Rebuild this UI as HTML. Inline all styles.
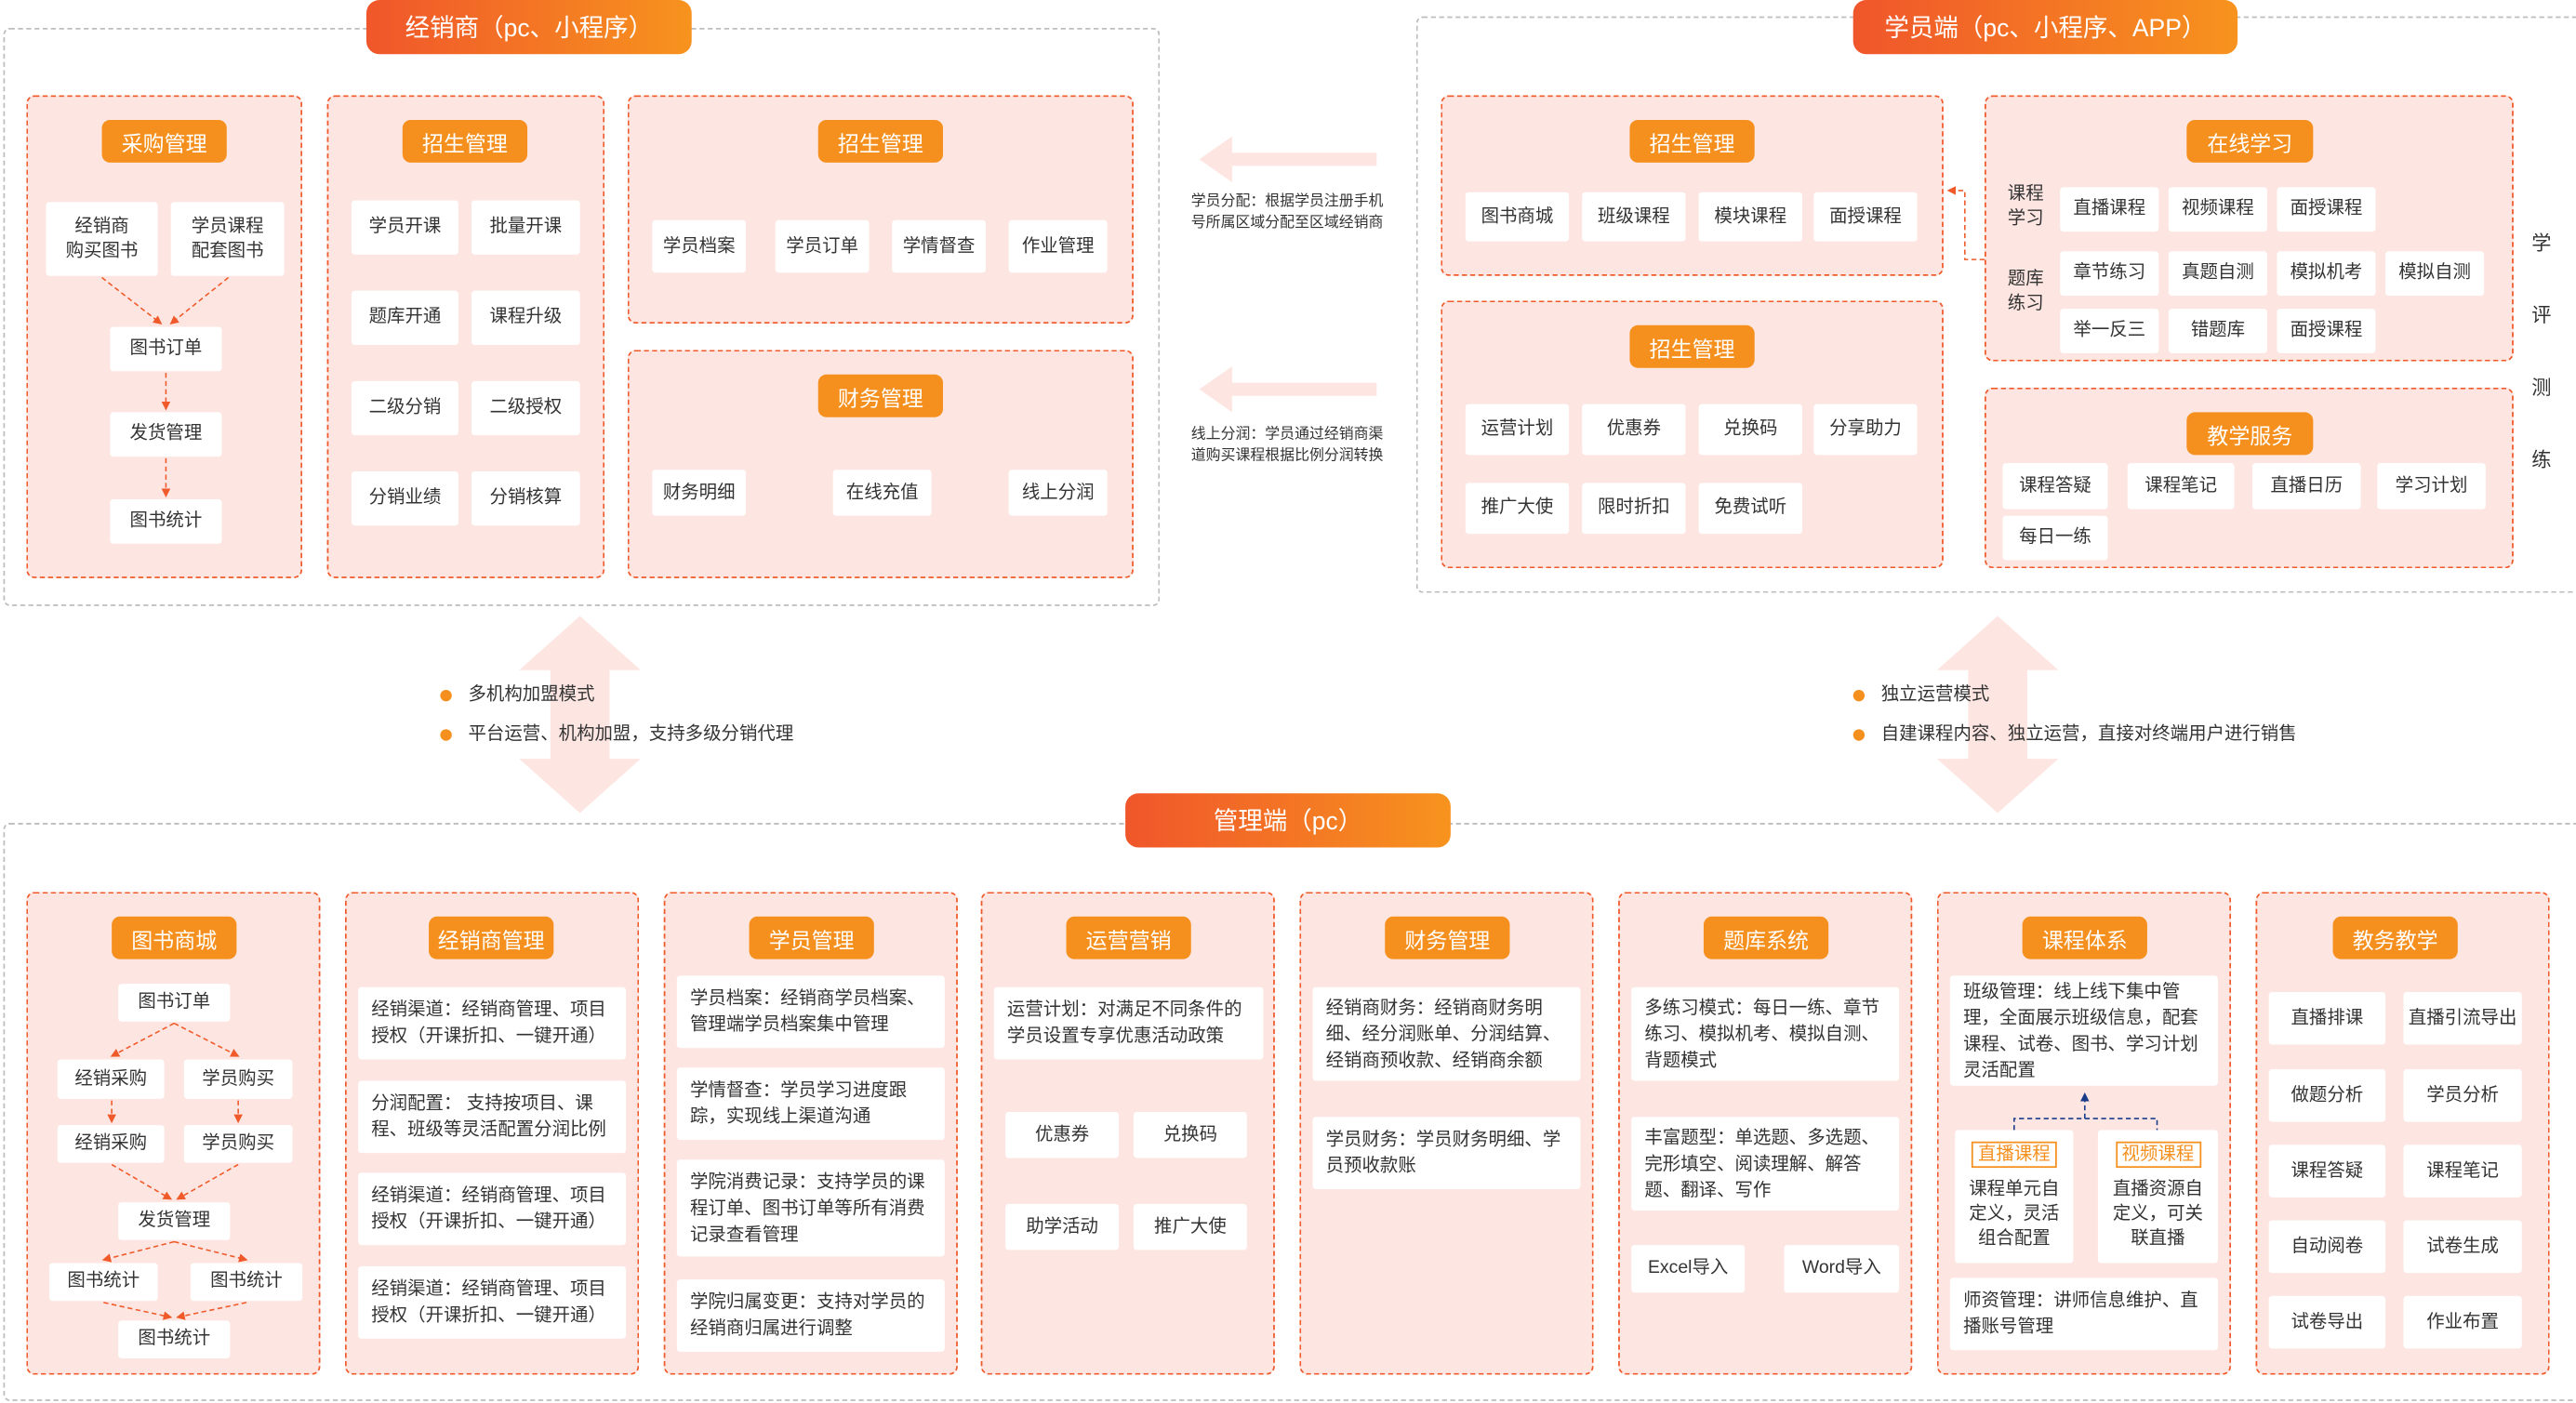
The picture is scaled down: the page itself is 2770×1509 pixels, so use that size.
<!DOCTYPE html>
<html><head><meta charset="utf-8"><style>
*{margin:0;padding:0;box-sizing:border-box}
html,body{width:2770px;height:1509px;overflow:hidden;background:#fff}
#w{position:absolute;left:0;top:0;width:1568px;height:854px;transform:scale(1.76658);transform-origin:0 0;font-family:"Liberation Sans","Noto Sans CJK SC",sans-serif;color:#333}
.a{position:absolute}
.o{position:absolute;border:1px dashed #bdbdbd;border-radius:4px}
.p{position:absolute;background:#fde6e2;border:1.5px dashed #f05a2a;border-radius:5px}
.t{position:absolute;height:33px;border-radius:8px;background:linear-gradient(90deg,#f0562b,#f7931e);color:#fff;font-size:15px;display:flex;align-items:center;justify-content:center}
.pl{position:absolute;height:26px;width:76px;border-radius:5px;background:#f5901e;color:#fff;font-size:13px;display:flex;align-items:center;justify-content:center}
.b{position:absolute;background:#fff;border-radius:2px;font-size:11px;display:flex;align-items:center;justify-content:center;text-align:center;line-height:15px}
.x{position:absolute;background:#fff;border-radius:2px;font-size:11px;line-height:16px;padding:0 8px;display:flex;align-items:center}
.tx{position:absolute;font-size:11px;line-height:15px}
.dot{position:absolute;width:7px;height:7px;border-radius:50%;background:#f5901e}
.tag{display:inline-block;border:1px solid #f5901e;color:#f5901e;font-size:11px;line-height:14px;padding:0 3px;margin-bottom:6px}
</style></head><body><div id="w">
<svg class="a" style="left:0;top:0" width="1568" height="854">
<defs>
<marker id="m" markerWidth="6" markerHeight="6" refX="5" refY="3" orient="auto"><path d="M0,0 L6,3 L0,6z" fill="#f05a2a"/></marker>
<marker id="mb" markerWidth="6" markerHeight="6" refX="5" refY="3" orient="auto"><path d="M0,0 L6,3 L0,6z" fill="#1a3a8a"/></marker>
</defs>
<g fill="#fde6e2">
<polygon points="730,97 750,83 750,93 838,93 838,101 750,101 750,111"/>
<polygon points="730,237 750,223 750,233 838,233 838,241 750,241 750,251"/>
<polygon points="353,375 390,408 371,408 371,462 390,462 353,495 316,462 335,462 335,408 316,408"/>
<polygon points="1216,375 1253,408 1234,408 1234,462 1253,462 1216,495 1179,462 1198,462 1198,408 1179,408"/>
</g>
</svg>
<!-- top-left -->
<div class="o" style="left:2px;top:17px;width:704px;height:352px"></div>
<div class="t" style="left:223px;top:0;width:198px">经销商（pc、小程序）</div>
<div class="p" style="left:16px;top:58px;width:168px;height:294px"></div>
<div class="pl" style="left:62px;top:73px">采购管理</div>
<div class="b" style="left:28px;top:123px;width:68px;height:45px">经销商<br>购买图书</div>
<div class="b" style="left:104px;top:123px;width:69px;height:45px">学员课程<br>配套图书</div>
<div class="b" style="left:67px;top:199px;width:68px;height:27px">图书订单</div>
<div class="b" style="left:67px;top:251px;width:68px;height:27px">发货管理</div>
<div class="b" style="left:67px;top:304px;width:68px;height:27px">图书统计</div>
<div class="p" style="left:199px;top:58px;width:169px;height:294px"></div>
<div class="pl" style="left:245px;top:73px">招生管理</div>
<div class="b" style="left:214px;top:122px;width:65px;height:33px">学员开课</div>
<div class="b" style="left:287px;top:122px;width:66px;height:33px">批量开课</div>
<div class="b" style="left:214px;top:177px;width:65px;height:33px">题库开通</div>
<div class="b" style="left:287px;top:177px;width:66px;height:33px">课程升级</div>
<div class="b" style="left:214px;top:232px;width:65px;height:33px">二级分销</div>
<div class="b" style="left:287px;top:232px;width:66px;height:33px">二级授权</div>
<div class="b" style="left:214px;top:287px;width:65px;height:33px">分销业绩</div>
<div class="b" style="left:287px;top:287px;width:66px;height:33px">分销核算</div>
<div class="p" style="left:382px;top:58px;width:308px;height:139px"></div>
<div class="pl" style="left:498px;top:73px">招生管理</div>
<div class="b" style="left:397px;top:134px;width:57px;height:32px">学员档案</div>
<div class="b" style="left:472px;top:134px;width:57px;height:32px">学员订单</div>
<div class="b" style="left:543px;top:134px;width:57px;height:32px">学情督查</div>
<div class="b" style="left:614px;top:134px;width:60px;height:32px">作业管理</div>
<div class="p" style="left:382px;top:213px;width:308px;height:139px"></div>
<div class="pl" style="left:498px;top:228px">财务管理</div>
<div class="b" style="left:397px;top:286px;width:57px;height:28px">财务明细</div>
<div class="b" style="left:507px;top:286px;width:60px;height:28px">在线充值</div>
<div class="b" style="left:614px;top:286px;width:60px;height:28px">线上分润</div>
<!-- middle texts -->
<div class="tx" style="left:725px;top:116px;font-size:9px;line-height:13px">学员分配：根据学员注册手机<br>号所属区域分配至区域经销商</div>
<div class="tx" style="left:725px;top:258px;font-size:9px;line-height:13px">线上分润：学员通过经销商渠<br>道购买课程根据比例分润转换</div>
<!-- top-right -->
<div class="o" style="left:862px;top:10px;width:720px;height:351px"></div>
<div class="t" style="left:1128px;top:0;width:234px">学员端（pc、小程序、APP）</div>
<div class="p" style="left:877px;top:58px;width:306px;height:110px"></div>
<div class="pl" style="left:992px;top:73px">招生管理</div>
<div class="b" style="left:892px;top:117px;width:63px;height:30px">图书商城</div>
<div class="b" style="left:963px;top:117px;width:63px;height:30px">班级课程</div>
<div class="b" style="left:1034px;top:117px;width:63px;height:30px">模块课程</div>
<div class="b" style="left:1104px;top:117px;width:63px;height:30px">面授课程</div>
<div class="p" style="left:877px;top:183px;width:306px;height:163px"></div>
<div class="pl" style="left:992px;top:198px">招生管理</div>
<div class="b" style="left:892px;top:246px;width:63px;height:31px">运营计划</div>
<div class="b" style="left:963px;top:246px;width:63px;height:31px">优惠券</div>
<div class="b" style="left:1034px;top:246px;width:63px;height:31px">兑换码</div>
<div class="b" style="left:1104px;top:246px;width:63px;height:31px">分享助力</div>
<div class="b" style="left:892px;top:294px;width:63px;height:31px">推广大使</div>
<div class="b" style="left:963px;top:294px;width:63px;height:31px">限时折扣</div>
<div class="b" style="left:1034px;top:294px;width:63px;height:31px">免费试听</div>
<div class="p" style="left:1208px;top:58px;width:322px;height:162px"></div>
<div class="pl" style="left:1331px;top:73px;width:77px">在线学习</div>
<div class="tx" style="left:1222px;top:111px">课程<br>学习</div>
<div class="tx" style="left:1222px;top:163px">题库<br>练习</div>
<div class="b" style="left:1254px;top:114px;width:60px;height:27px">直播课程</div>
<div class="b" style="left:1320px;top:114px;width:60px;height:27px">视频课程</div>
<div class="b" style="left:1386px;top:114px;width:60px;height:27px">面授课程</div>
<div class="b" style="left:1254px;top:153px;width:60px;height:27px">章节练习</div>
<div class="b" style="left:1320px;top:153px;width:60px;height:27px">真题自测</div>
<div class="b" style="left:1386px;top:153px;width:60px;height:27px">模拟机考</div>
<div class="b" style="left:1452px;top:153px;width:60px;height:27px">模拟自测</div>
<div class="b" style="left:1254px;top:188px;width:60px;height:27px">举一反三</div>
<div class="b" style="left:1320px;top:188px;width:60px;height:27px">错题库</div>
<div class="b" style="left:1386px;top:188px;width:60px;height:27px">面授课程</div>
<div class="p" style="left:1208px;top:236px;width:322px;height:110px"></div>
<div class="pl" style="left:1331px;top:251px;width:77px">教学服务</div>
<div class="b" style="left:1219px;top:282px;width:64px;height:28px">课程答疑</div>
<div class="b" style="left:1295px;top:282px;width:65px;height:28px">课程笔记</div>
<div class="b" style="left:1371px;top:282px;width:66px;height:28px">直播日历</div>
<div class="b" style="left:1447px;top:282px;width:66px;height:28px">学习计划</div>
<div class="b" style="left:1219px;top:314px;width:64px;height:27px">每日一练</div>
<div class="tx" style="left:1541px;top:126px;font-size:12px;line-height:44px">学<br>评<br>测<br>练</div>
<!-- bullets -->
<div class="dot" style="left:268px;top:420px"></div><div class="tx" style="left:285px;top:416px">多机构加盟模式</div>
<div class="dot" style="left:268px;top:444px"></div><div class="tx" style="left:285px;top:440px">平台运营、机构加盟，支持多级分销代理</div>
<div class="dot" style="left:1128px;top:420px"></div><div class="tx" style="left:1145px;top:416px">独立运营模式</div>
<div class="dot" style="left:1128px;top:444px"></div><div class="tx" style="left:1145px;top:440px">自建课程内容、独立运营，直接对终端用户进行销售</div>
<!-- bottom -->
<div class="o" style="left:2px;top:501px;width:1580px;height:352px"></div>
<div class="t" style="left:685px;top:483px;width:198px">管理端（pc）</div>
<div class="p" style="left:16px;top:543px;width:179px;height:294px"></div>
<div class="pl" style="left:68px;top:558px">图书商城</div>
<div class="b" style="left:72px;top:599px;width:68px;height:23px">图书订单</div>
<div class="b" style="left:35px;top:645px;width:65px;height:24px">经销采购</div>
<div class="b" style="left:112px;top:645px;width:66px;height:24px">学员购买</div>
<div class="b" style="left:35px;top:685px;width:65px;height:23px">经销采购</div>
<div class="b" style="left:112px;top:685px;width:66px;height:23px">学员购买</div>
<div class="b" style="left:72px;top:732px;width:68px;height:23px">发货管理</div>
<div class="b" style="left:30px;top:769px;width:66px;height:23px">图书统计</div>
<div class="b" style="left:116px;top:769px;width:68px;height:23px">图书统计</div>
<div class="b" style="left:72px;top:804px;width:68px;height:23px">图书统计</div>
<div class="p" style="left:210px;top:543px;width:179px;height:294px"></div>
<div class="pl" style="left:261px;top:558px">经销商管理</div>
<div class="x" style="left:218px;top:601px;width:163px;height:44px">经销渠道：经销商管理、项目授权（开课折扣、一键开通）</div>
<div class="x" style="left:218px;top:658px;width:163px;height:44px">分润配置： 支持按项目、课程、班级等灵活配置分润比例</div>
<div class="x" style="left:218px;top:714px;width:163px;height:44px">经销渠道：经销商管理、项目授权（开课折扣、一键开通）</div>
<div class="x" style="left:218px;top:771px;width:163px;height:44px">经销渠道：经销商管理、项目授权（开课折扣、一键开通）</div>
<div class="p" style="left:404px;top:543px;width:179px;height:294px"></div>
<div class="pl" style="left:456px;top:558px">学员管理</div>
<div class="x" style="left:412px;top:594px;width:163px;height:44px">学员档案：经销商学员档案、管理端学员档案集中管理</div>
<div class="x" style="left:412px;top:650px;width:163px;height:44px">学情督查：学员学习进度跟踪，实现线上渠道沟通</div>
<div class="x" style="left:412px;top:706px;width:163px;height:59px">学院消费记录：支持学员的课程订单、图书订单等所有消费记录查看管理</div>
<div class="x" style="left:412px;top:779px;width:163px;height:44px">学院归属变更：支持对学员的经销商归属进行调整</div>
<div class="p" style="left:597px;top:543px;width:179px;height:294px"></div>
<div class="pl" style="left:649px;top:558px">运营营销</div>
<div class="x" style="left:605px;top:601px;width:164px;height:44px">运营计划：对满足不同条件的学员设置专享优惠活动政策</div>
<div class="b" style="left:612px;top:677px;width:69px;height:28px">优惠券</div>
<div class="b" style="left:690px;top:677px;width:69px;height:28px">兑换码</div>
<div class="b" style="left:612px;top:733px;width:69px;height:28px">助学活动</div>
<div class="b" style="left:690px;top:733px;width:69px;height:28px">推广大使</div>
<div class="p" style="left:791px;top:543px;width:179px;height:294px"></div>
<div class="pl" style="left:843px;top:558px">财务管理</div>
<div class="x" style="left:799px;top:601px;width:163px;height:57px">经销商财务：经销商财务明细、经分润账单、分润结算、经销商预收款、经销商余额</div>
<div class="x" style="left:799px;top:680px;width:163px;height:44px">学员财务：学员财务明细、学员预收款账</div>
<div class="p" style="left:985px;top:543px;width:179px;height:294px"></div>
<div class="pl" style="left:1037px;top:558px">题库系统</div>
<div class="x" style="left:993px;top:601px;width:163px;height:57px">多练习模式：每日一练、章节练习、模拟机考、模拟自测、背题模式</div>
<div class="x" style="left:993px;top:680px;width:163px;height:57px">丰富题型：单选题、多选题、完形填空、阅读理解、解答题、翻译、写作</div>
<div class="b" style="left:993px;top:758px;width:69px;height:29px">Excel导入</div>
<div class="b" style="left:1086px;top:758px;width:70px;height:29px">Word导入</div>
<div class="p" style="left:1179px;top:543px;width:179px;height:294px"></div>
<div class="pl" style="left:1231px;top:558px">课程体系</div>
<div class="x" style="left:1187px;top:594px;width:163px;height:67px">班级管理：线上线下集中管理，全面展示班级信息，配套课程、试卷、图书、学习计划灵活配置</div>
<div class="b" style="left:1190px;top:688px;width:72px;height:81px;flex-direction:column"><span class="tag">直播课程</span>课程单元自<br>定义，灵活<br>组合配置</div>
<div class="b" style="left:1277px;top:688px;width:73px;height:81px;flex-direction:column"><span class="tag">视频课程</span>直播资源自<br>定义，可关<br>联直播</div>
<div class="x" style="left:1187px;top:778px;width:163px;height:44px">师资管理：讲师信息维护、直播账号管理</div>
<div class="p" style="left:1373px;top:543px;width:179px;height:294px"></div>
<div class="pl" style="left:1420px;top:558px">教务教学</div>
<div class="b" style="left:1381px;top:604px;width:71px;height:32px">直播排课</div>
<div class="b" style="left:1463px;top:604px;width:72px;height:32px">直播引流导出</div>
<div class="b" style="left:1381px;top:651px;width:71px;height:32px">做题分析</div>
<div class="b" style="left:1463px;top:651px;width:72px;height:32px">学员分析</div>
<div class="b" style="left:1381px;top:697px;width:71px;height:32px">课程答疑</div>
<div class="b" style="left:1463px;top:697px;width:72px;height:32px">课程笔记</div>
<div class="b" style="left:1381px;top:743px;width:71px;height:32px">自动阅卷</div>
<div class="b" style="left:1463px;top:743px;width:72px;height:32px">试卷生成</div>
<div class="b" style="left:1381px;top:789px;width:71px;height:32px">试卷导出</div>
<div class="b" style="left:1463px;top:789px;width:72px;height:32px">作业布置</div>
<!-- connectors -->
<svg class="a" style="left:0;top:0" width="1568" height="854" fill="none">
<g stroke="#f05a2a" stroke-width="0.9" stroke-dasharray="3,2" marker-end="url(#m)">
<path d="M62,169 L98,197"/><path d="M139,169 L104,197"/>
<path d="M101,227 V249"/><path d="M101,279 V302"/>
<path d="M106,623 L68,643"/><path d="M106,623 L145,643"/>
<path d="M68,670 V683"/><path d="M145,670 V683"/>
<path d="M68,709 L104,730"/><path d="M145,709 L108,730"/>
<path d="M106,756 L63,767"/><path d="M106,756 L150,767"/>
<path d="M63,793 L104,802"/><path d="M150,793 L108,802"/>
<path d="M1208,158 H1196 V116 H1186"/>
</g>
<g stroke="#1a3a8a" stroke-width="0.9" stroke-dasharray="3,2">
<path d="M1226,688 V681 H1313 V688"/>
<path d="M1269,681 V666" marker-end="url(#mb)"/>
</g>
</svg>
</div></body></html>
